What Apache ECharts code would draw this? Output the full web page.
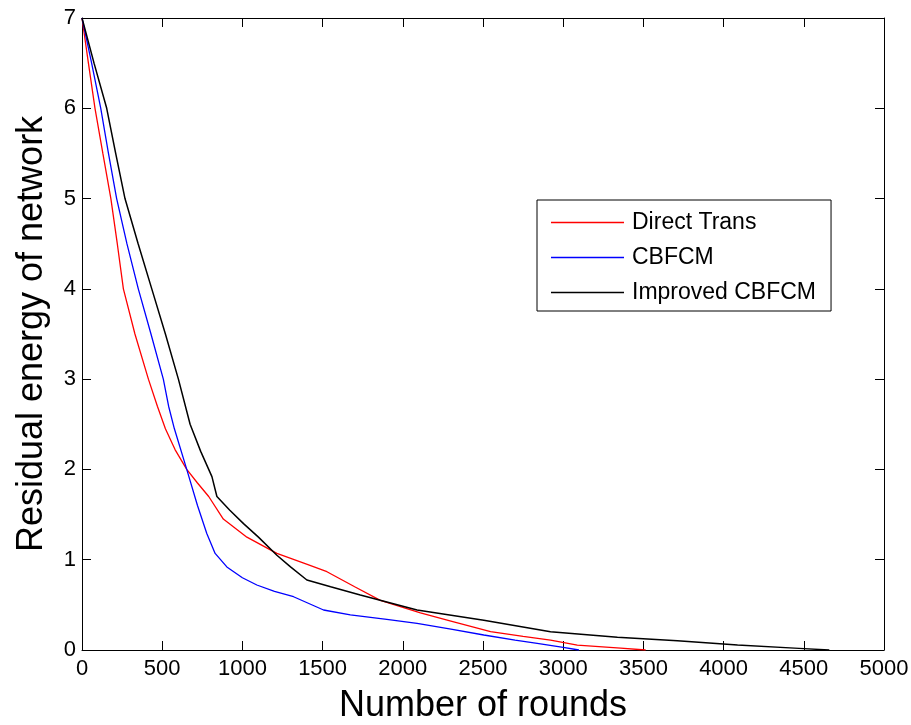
<!DOCTYPE html>
<html>
<head>
<meta charset="utf-8">
<title>Residual energy of network</title>
<script src="https://cdn.jsdelivr.net/npm/echarts@6/dist/echarts.min.js"></script>
<style>
  html, body { margin: 0; padding: 0; background: #fff; }
  #chart { width: 911px; height: 725px; }
</style>
</head>
<body>
<div id="chart"></div>
<script>
// Residual energy per round for the three schemes
const seriesNames = ['Direct Trans', 'CBFCM', 'Improved CBFCM'];

const directRounds = [0, 40, 81, 130, 180, 220, 258, 330, 414, 470, 520, 580, 653, 720, 790, 881, 1028, 1215, 1400, 1527, 1700, 1860, 2110, 2300, 2547, 2750, 2921, 3088, 3358, 3514];
const directEnergy = [7, 6.5, 6, 5.5, 5, 4.5, 4, 3.5, 3, 2.7, 2.45, 2.22, 2.0, 1.85, 1.7, 1.45, 1.25, 1.07, 0.95, 0.867, 0.7, 0.55, 0.41, 0.32, 0.203, 0.15, 0.11, 0.055, 0.02, 0];

const cbfcmRounds = [0, 60, 117, 165, 216, 280, 351, 430, 507, 540, 576, 653, 720, 778, 830, 903, 1000, 1090, 1200, 1319, 1506, 1673, 1900, 2089, 2300, 2505, 2700, 2838, 3000, 3098];
const cbfcmEnergy = [7, 6.5, 6, 5.5, 5, 4.5, 4, 3.5, 3, 2.7, 2.45, 2.0, 1.6, 1.29, 1.07, 0.92, 0.8, 0.72, 0.65, 0.59, 0.443, 0.39, 0.34, 0.295, 0.23, 0.166, 0.11, 0.074, 0.03, 0];

const improvedRounds = [0, 75, 154, 210, 268, 350, 435, 520, 601, 674, 740, 810, 841, 920, 1007, 1100, 1215, 1300, 1402, 1550, 1735, 2089, 2505, 2921, 3338, 3712, 4087, 4470, 4659];
const improvedEnergy = [7, 6.5, 6, 5.5, 5, 4.5, 4, 3.5, 3, 2.5, 2.2, 1.92, 1.7, 1.55, 1.4, 1.25, 1.05, 0.92, 0.775, 0.7, 0.61, 0.443, 0.33, 0.203, 0.14, 0.103, 0.055, 0.018, 0];

const xTicks = { min: 0, max: 5000, interval: 500 };
const yTicks = { min: 0, max: 7, interval: 1 };

const FONT = '"Liberation Sans", Arial, sans-serif';

function pairs(xs, ys) {
  return xs.map((x, i) => [x, ys[i]]);
}

const plain = (v) => String(v);

const axisLine = { show: true, onZero: false, lineStyle: { color: '#000', width: 1 } };
const axisTick = { show: true, inside: true, length: 9, lineStyle: { color: '#000', width: 1 } };

const chart = echarts.init(document.getElementById('chart'), null, { renderer: 'canvas' });

chart.setOption({
  backgroundColor: '#fff',
  animation: false,
  grid: { left: 82, right: 27, top: 18, bottom: 75, containLabel: false, outerBoundsMode: 'none' },
  legend: {
    data: seriesNames,
    orient: 'vertical',
    left: 537,
    top: 200,
    icon: 'rect',
    itemWidth: 73,
    itemHeight: 1.5,
    itemGap: 12,
    padding: [11, 15, 7, 14],
    borderColor: '#000',
    borderWidth: 1,
    backgroundColor: '#fff',
    textStyle: { fontFamily: FONT, fontSize: 23, color: '#000', padding: [0, 0, 0, 3] }
  },
  xAxis: [
    {
      type: 'value',
      position: 'bottom',
      min: xTicks.min, max: xTicks.max, interval: xTicks.interval,
      name: 'Number of rounds',
      nameLocation: 'middle',
      nameGap: 38,
      nameTextStyle: { fontFamily: FONT, fontSize: 36, color: '#000' },
      axisLine, axisTick,
      axisLabel: { fontFamily: FONT, fontSize: 22, color: '#000', margin: 8, formatter: plain },
      splitLine: { show: false }
    },
    {
      type: 'value',
      position: 'top',
      min: xTicks.min, max: xTicks.max, interval: xTicks.interval,
      axisLine, axisTick,
      axisLabel: { show: false },
      splitLine: { show: false }
    }
  ],
  yAxis: [
    {
      type: 'value',
      position: 'left',
      min: yTicks.min, max: yTicks.max, interval: yTicks.interval,
      name: 'Residual energy of network',
      nameLocation: 'middle',
      nameGap: 32,
      nameTextStyle: { fontFamily: FONT, fontSize: 36, color: '#000' },
      axisLine, axisTick,
      axisLabel: { fontFamily: FONT, fontSize: 22, color: '#000', margin: 6, formatter: plain },
      splitLine: { show: false }
    },
    {
      type: 'value',
      position: 'right',
      min: yTicks.min, max: yTicks.max, interval: yTicks.interval,
      axisLine, axisTick,
      axisLabel: { show: false },
      splitLine: { show: false }
    }
  ],
  series: [
    {
      name: seriesNames[0], type: 'line', data: pairs(directRounds, directEnergy),
      showSymbol: false, symbol: 'none', color: '#ff0000',
      lineStyle: { color: '#ff0000', width: 1.3 }
    },
    {
      name: seriesNames[1], type: 'line', data: pairs(cbfcmRounds, cbfcmEnergy),
      showSymbol: false, symbol: 'none', color: '#0000ff',
      lineStyle: { color: '#0000ff', width: 1.3 }
    },
    {
      name: seriesNames[2], type: 'line', data: pairs(improvedRounds, improvedEnergy),
      showSymbol: false, symbol: 'none', color: '#000000',
      lineStyle: { color: '#000000', width: 1.5 }
    }
  ]
});
</script>
</body>
</html>
